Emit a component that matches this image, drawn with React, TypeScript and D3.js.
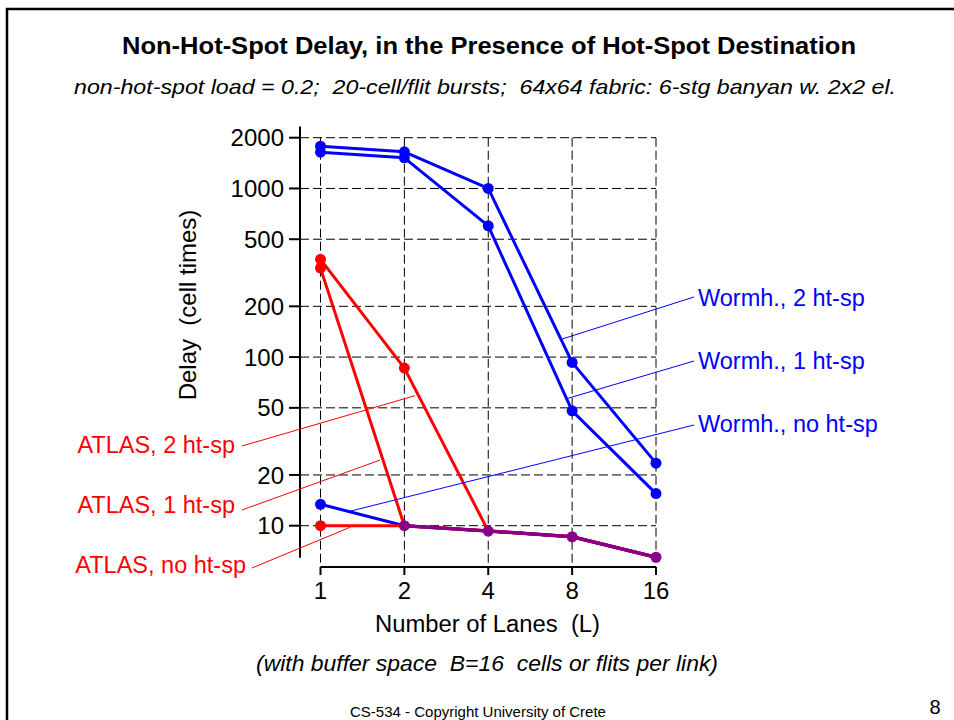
import React from "react";
import * as d3 from "d3";

// lanes per link (x) and delay in cell times (y, log)
const lanes = [1, 2, 4, 8, 16];
const yTicks = [10, 20, 50, 100, 200, 500, 1000, 2000];

const wormh2 = [1780, 1650, 1000, 93, 23.5];
const wormh1 = [1640, 1520, 600, 48, 15.5];
const wormh0 = [13.4, 10, 9.3, 8.6, 6.5];
const atlas2 = [380, 86, 9.3, 8.6, 6.5];
const atlas1 = [337, 10, 9.3, 8.6, 6.5];
const atlas0 = [10, 10, 9.3, 8.6, 6.5];

const seriesNames = [
  "Wormh., 2 ht-sp",
  "Wormh., 1 ht-sp",
  "Wormh., no ht-sp",
  "ATLAS, 2 ht-sp",
  "ATLAS, 1 ht-sp",
  "ATLAS, no ht-sp",
];
const seriesValues = [wormh2, wormh1, wormh0, atlas2, atlas1, atlas0];
const seriesKind = ["w", "w", "w", "a", "a", "a"];

// where each leader line touches its curve: [lanes, delay]
const leaderTargets: [number, number][] = [
  [7.37, 128],
  [7.74, 57],
  [1.28, 12.2],
  [2.18, 59],
  [1.635, 24.5],
  [1.28, 9.8],
];

const FONT = "'Liberation Sans', Arial, Helvetica, sans-serif";
const RED = "#ff0000";
const BLUE = "#0000ff";
const PURPLE = "#880088";

const x = d3.scaleLog().base(2).domain([1, 16]).range([320.5, 656]);
const y = d3.scaleLog().domain([10, 2000]).range([525.7, 137.7]);

const axisX = 300;
const xAxisY = 567;
const yAxisTop = y(2330);
const yAxisBottom = y(6.45);

const lineGen = d3
  .line<number>()
  .x((_, i) => x(lanes[i]))
  .y((d) => y(d));

export default function App() {
  // segments and points shared by an ATLAS and a wormhole curve are drawn purple
  const key = (i: number, v: number) => `${i}:${v}`;
  const kindsAt = new Map<string, Set<string>>();
  seriesValues.forEach((vals, s) =>
    vals.forEach((v, i) => {
      const k = key(i, v);
      if (!kindsAt.has(k)) kindsAt.set(k, new Set());
      kindsAt.get(k)!.add(seriesKind[s]);
    })
  );
  const shared = (i: number, v: number) => kindsAt.get(key(i, v))!.size > 1;

  const sharedSegs: [number, number, number][] = [];
  atlas0.forEach((v, i) => {
    if (i === 0) return;
    const u = atlas0[i - 1];
    if (wormh0[i] === v && wormh0[i - 1] === u) sharedSegs.push([i - 1, u, v]);
  });

  const points: { i: number; v: number; c: string }[] = [];
  const seen = new Set<string>();
  seriesValues.forEach((vals, s) =>
    vals.forEach((v, i) => {
      const k = key(i, v);
      if (seen.has(k)) return;
      seen.add(k);
      points.push({
        i,
        v,
        c: shared(i, v) ? PURPLE : seriesKind[s] === "w" ? BLUE : RED,
      });
    })
  );

  return (
    <svg
      width={954}
      height={720}
      style={{ position: "absolute", left: 0, top: 0, background: "#fff" }}
      fontFamily={FONT}
    >
      <rect width={954} height={720} fill="#fff" />
      <path d="M7,720V9H954" fill="none" stroke="#000" strokeWidth={2.5} />

      <text
        x={489}
        y={54}
        textAnchor="middle"
        fontSize={23}
        fontWeight="bold"
        textLength={734}
        lengthAdjust="spacingAndGlyphs"
      >
        Non-Hot-Spot Delay, in the Presence of Hot-Spot Destination
      </text>
      <text
        x={485}
        y={94}
        textAnchor="middle"
        fontSize={21}
        fontStyle="italic"
        textLength={822}
        lengthAdjust="spacingAndGlyphs"
        style={{ whiteSpace: "pre" }}
      >
        {"non-hot-spot load = 0.2;  20-cell/flit bursts;  64x64 fabric: 6-stg banyan w. 2x2 el."}
      </text>

      {/* grid */}
      <g stroke="#000" strokeWidth={1} strokeDasharray="9,4">
        {yTicks.map((t) => (
          <line key={t} x1={axisX} x2={x(16)} y1={y(t)} y2={y(t)} />
        ))}
        {lanes.map((l) => (
          <line key={l} x1={x(l)} x2={x(l)} y1={y(2000)} y2={xAxisY} />
        ))}
      </g>

      {/* y axis */}
      <line x1={axisX} x2={axisX} y1={yAxisTop} y2={yAxisBottom} stroke="#000" strokeWidth={2} />
      {yTicks.map((t) => (
        <g key={t}>
          <line x1={axisX - 11} x2={axisX} y1={y(t)} y2={y(t)} stroke="#000" strokeWidth={2} />
          <text x={284} y={y(t)} dy="0.36em" textAnchor="end" fontSize={24}>
            {t}
          </text>
        </g>
      ))}
      <text
        transform={`translate(196,305) rotate(-90)`}
        textAnchor="middle"
        fontSize={24}
        style={{ whiteSpace: "pre" }}
      >
        {"Delay  (cell times)"}
      </text>

      {/* x axis */}
      <line x1={x(1)} x2={x(16)} y1={xAxisY} y2={xAxisY} stroke="#000" strokeWidth={2} />
      {lanes.map((l) => (
        <g key={l}>
          <line x1={x(l)} x2={x(l)} y1={xAxisY} y2={xAxisY + 8} stroke="#000" strokeWidth={2} />
          <text x={x(l)} y={599} textAnchor="middle" fontSize={24}>
            {l}
          </text>
        </g>
      ))}
      <text
        x={487.5}
        y={632}
        textAnchor="middle"
        fontSize={23.5}
        textLength={225}
        lengthAdjust="spacingAndGlyphs"
        style={{ whiteSpace: "pre" }}
      >
        {"Number of Lanes  (L)"}
      </text>
      <text
        x={487}
        y={671}
        textAnchor="middle"
        fontSize={22}
        fontStyle="italic"
        textLength={462}
        lengthAdjust="spacingAndGlyphs"
        style={{ whiteSpace: "pre" }}
      >
        {"(with buffer space  B=16  cells or flits per link)"}
      </text>
      <text x={478} y={717} textAnchor="middle" fontSize={15}>
        CS-534 - Copyright University of Crete
      </text>
      <text x={935} y={714} textAnchor="middle" fontSize={20}>
        8
      </text>

      {/* series */}
      {seriesValues.map((vals, s) => (
        <path
          key={s}
          d={lineGen(vals) ?? ""}
          fill="none"
          stroke={seriesKind[s] === "w" ? BLUE : RED}
          strokeWidth={3}
          strokeLinejoin="round"
        />
      ))}
      {sharedSegs.map(([i, u, v]) => (
        <line
          key={i}
          x1={x(lanes[i])}
          x2={x(lanes[i + 1])}
          y1={y(u)}
          y2={y(v)}
          stroke={PURPLE}
          strokeWidth={3.5}
        />
      ))}
      {points.map((p, k) => (
        <circle key={k} cx={x(lanes[p.i])} cy={y(p.v)} r={5.5} fill={p.c} />
      ))}

      {/* labels with leader lines */}
      {seriesNames.map((name, s) => {
        const w = seriesKind[s] === "w";
        const row = s % 3;
        const color = w ? BLUE : RED;
        const lx = w ? 698 : row === 2 ? 246 : 235;
        const ly = w ? [306, 369, 432][row] : [453, 513, 573][row];
        const sx = w ? 694 : row === 2 ? 252 : 242;
        const sy = w ? [297, 361, 425][row] : [446, 510, 568][row];
        const [tl, tv] = leaderTargets[s];
        return (
          <g key={name}>
            <line x1={sx} y1={sy} x2={x(tl)} y2={y(tv)} stroke={color} strokeWidth={1} />
            <text x={lx} y={ly} textAnchor={w ? "start" : "end"} fontSize={23.5} fill={color}>
              {name}
            </text>
          </g>
        );
      })}
    </svg>
  );
}
